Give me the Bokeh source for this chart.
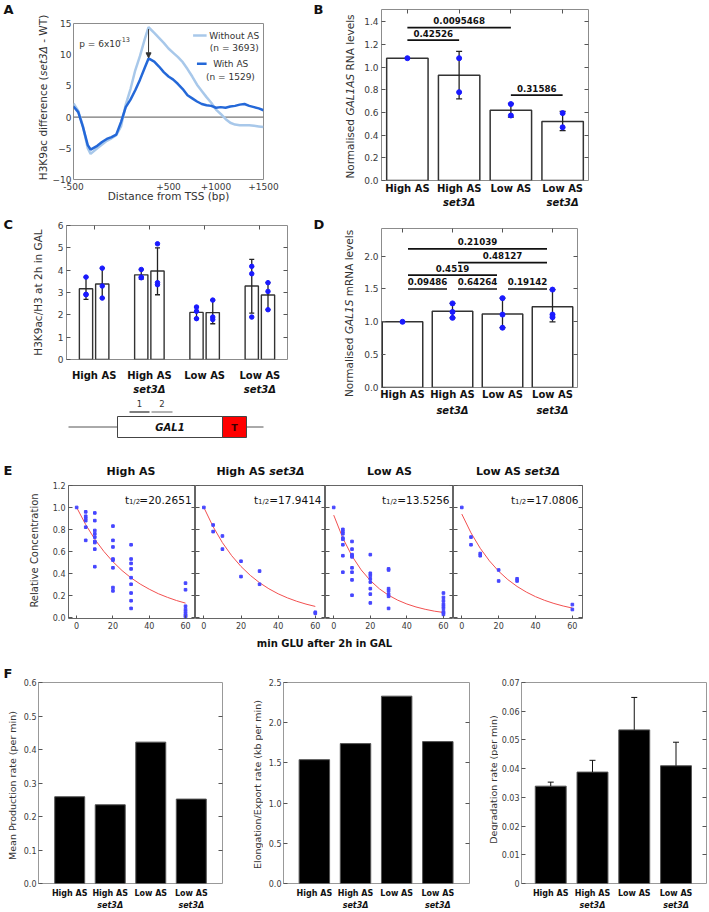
import math
from bokeh.plotting import figure
from bokeh.layouts import column, row
from bokeh.models import (Range1d, Arrow, NormalHead, LinearAxis, FixedTicker,
                          CustomJSTickFormatter, Span)
from bokeh.core.properties import value
from bokeh.embed import file_html
from bokeh.resources import INLINE

FONT = "DejaVu Sans"

# ---------------- DATA ----------------
# Panel A: H3K9ac difference (set3Δ - WT) around TSS
a_pos = [-500, -450, -400, -350, -320, -250, -200, -150, -100, -50, 0, 50, 100, 150, 200, 250, 290,
         350, 400, 450, 500, 550, 600, 650, 700, 750, 800, 850, 900, 950, 1000, 1050, 1100, 1150,
         1200, 1250, 1300, 1350, 1400, 1450, 1500]
a_without = [2.2, 1.0, -1.5, -5.0, -5.9, -5.0, -4.4, -3.8, -3.4, -2.9, -1.5, 2.0, 4.5, 7.5, 9.8, 12.5,
             14.4, 13.5, 12.7, 11.9, 11.0, 10.3, 9.6, 8.8, 7.7, 6.5, 5.2, 4.2, 3.2, 2.3, 1.2, 0.5, -0.3,
             -0.9, -1.2, -1.3, -1.3, -1.3, -1.4, -1.5, -1.6]
a_with = [1.7, 0.8, -1.6, -4.5, -5.2, -4.6, -4.0, -3.5, -3.2, -2.8, -0.8, 1.6, 2.8, 4.3, 6.0, 7.9, 9.4,
          8.9, 8.1, 7.2, 6.5, 6.0, 5.3, 4.5, 3.5, 3.0, 2.5, 2.1, 1.9, 1.8, 1.5, 1.6, 1.5, 1.7, 1.8,
          2.0, 2.1, 1.8, 1.6, 1.4, 1.1]
a_xticks = [-500, 500, 1000, 1500]
a_yticks = [-10, -5, 0, 5, 10, 15]
a_legend = ["Without AS", "(n = 3693)", "With AS", "(n = 1529)"]
a_ptext = ["p = 6x10", "-13"]

# shared categories
cat_line1 = ["High AS", "High AS", "Low AS", "Low AS"]
cat_line2 = ["", "set3Δ", "", "set3Δ"]

# Panel B: Normalised GAL1AS RNA levels
b_mean = [1.08, 0.93, 0.62, 0.52]
b_pts = [[1.08], [1.08, 0.78], [0.675, 0.574], [0.595, 0.47]]
b_err_idx = [1, 2, 3]
b_err_lo = [0.72, 0.56, 0.44]
b_err_hi = [1.14, 0.68, 0.61]
b_sig = [(1, 3, 1.35, "0.0095468"), (1, 2, 1.24, "0.42526"), (3, 4, 0.754, "0.31586")]
b_yticks = [0.0, 0.2, 0.4, 0.6, 0.8, 1.0, 1.2, 1.4]

# Panel C: H3K9ac/H3 at 2h in GAL (two amplicons per strain)
c_bar1 = [3.17, 3.79, 2.11, 3.29]
c_bar2 = [3.38, 3.96, 2.10, 2.89]
c_pts1 = [[3.69, 2.90, 2.92], [4.03, 3.69, 3.66], [2.35, 2.16, 1.83], [4.17, 3.84, 1.90]]
c_pts2 = [[4.09, 3.29, 2.75], [5.18, 3.44, 3.35], [2.66, 1.90, 1.79], [3.44, 3.05, 2.23]]
c_err1_lo = [2.69, 3.60, 1.83, 2.08]
c_err1_hi = [3.69, 4.03, 2.35, 4.48]
c_err2_lo = [2.75, 2.90, 1.60, 2.23]
c_err2_hi = [4.09, 5.00, 2.66, 3.44]
c_yticks = [0, 1, 2, 3, 4, 5, 6]

# Panel D: Normalised GAL1S mRNA levels
d_mean = [1.00, 1.16, 1.12, 1.23]
d_pts = [[1.00], [1.28, 1.15, 1.06], [1.36, 1.11, 0.91], [1.49, 1.11, 1.07]]
d_err_idx = [1, 2, 3]
d_err_lo = [1.06, 0.91, 1.00]
d_err_hi = [1.28, 1.36, 1.49]
d_sig = [(1, 2, 1.50, "0.09486"), (2, 3, 1.50, "0.64264"), (3, 4, 1.50, "0.19142"),
         (1, 3, 1.71, "0.4519"), (2, 4, 1.90, "0.48127"), (1, 4, 2.11, "0.21039")]
d_yticks = [0.0, 0.5, 1.0, 1.5, 2.0]

# Panel E: decay after glucose shut-off
e_titles = [("High AS", ""), ("High AS", "set3Δ"), ("Low AS", ""), ("Low AS", "set3Δ")]
e_half = ["20.2651", "17.9414", "13.5256", "17.0806"]
e1_t = [0] + [5] * 6 + [10] * 9 + [20] * 8 + [30] * 9 + [60] * 8
e1_c = [1.0, 0.96, 0.92, 0.90, 0.88, 0.82, 0.70, 0.95, 0.88, 0.79, 0.76, 0.73, 0.69, 0.68, 0.62, 0.46,
        0.83, 0.70, 0.64, 0.53, 0.52, 0.45, 0.27, 0.24, 0.66, 0.53, 0.49, 0.44, 0.36, 0.30, 0.22, 0.15,
        0.08, 0.31, 0.25, 0.10, 0.07, 0.05, 0.03, 0.015, 0.005]
e2_t = [0, 5, 5, 10, 10, 20, 20, 30, 30, 60, 60]
e2_c = [1.0, 0.84, 0.78, 0.74, 0.62, 0.51, 0.37, 0.42, 0.30, 0.045, 0.035]
e3_t = [0] + [5] * 8 + [10] * 9 + [20] * 8 + [30] * 7 + [60] * 9
e3_c = [1.0, 0.80, 0.78, 0.76, 0.72, 0.71, 0.66, 0.56, 0.41, 0.69, 0.62, 0.57, 0.56, 0.55, 0.45, 0.41,
        0.34, 0.20, 0.57, 0.40, 0.38, 0.35, 0.32, 0.26, 0.21, 0.13, 0.44, 0.43, 0.26, 0.24, 0.21, 0.19,
        0.08, 0.22, 0.18, 0.15, 0.12, 0.10, 0.08, 0.05, 0.04, 0.025]
e4_t = [0, 5, 5, 10, 10, 20, 20, 30, 30, 60, 60]
e4_c = [1.0, 0.73, 0.66, 0.58, 0.56, 0.43, 0.33, 0.35, 0.33, 0.115, 0.07]
e_fit_t = [0, 5, 10, 15, 20, 25, 30, 35, 40, 45, 50, 55, 60]
e1_fit = [1.0, 0.843, 0.710, 0.599, 0.505, 0.425, 0.358, 0.302, 0.255, 0.214, 0.181, 0.152, 0.128]
e2_fit = [1.0, 0.824, 0.679, 0.560, 0.462, 0.381, 0.314, 0.259, 0.213, 0.176, 0.145, 0.119, 0.098]
e3_fit = [0.93, 0.720, 0.557, 0.431, 0.334, 0.258, 0.200, 0.155, 0.120, 0.093, 0.072, 0.055, 0.043]
e4_fit = [0.94, 0.768, 0.628, 0.513, 0.419, 0.342, 0.280, 0.229, 0.187, 0.153, 0.125, 0.102, 0.083]
e_xticks = [0, 20, 40, 60]
e_yticks = [0.0, 0.2, 0.4, 0.6, 0.8, 1.0, 1.2]

# Panel F: modelled rates
f_prod = [0.259, 0.235, 0.422, 0.252]
f_elong = [1.54, 1.74, 2.33, 1.765]
f_deg = [0.0339, 0.0388, 0.0535, 0.0410]
f_deg_hi = [0.0353, 0.0429, 0.0648, 0.0492]
f1_yticks = [0.0, 0.1, 0.2, 0.3, 0.4, 0.5, 0.6]
f2_yticks = [0.0, 0.5, 1.0, 1.5, 2.0, 2.5]
f3_yticks = [0, 0.01, 0.02, 0.03, 0.04, 0.05, 0.06, 0.07]

# GAL1 schematic (diagram units)
gal1_backbone = [68, 263]
gal1_body = (117, 222)
gal1_term = (222, 246)
gal1_box = (416, 437)
gal1_probes = [(129, 149, "1", "#555555"), (151, 172, "2", "#9a9a9a")]

LIGHT = "#a8c8ea"
DARK = "#2468d8"
PTS = "#1a1aff"
TXT = "#333333"
INK = "#111111"

# ---------------- helpers ----------------
REGW = {' ': .318, '(': .390, ')': .390, '-': .361, '.': .318, '/': .337, '=': .838, '+': .838,
        'x': .592, 'A': .684, 'C': .698, 'D': .770, 'G': .775, 'H': .752, 'K': .656, 'L': .557,
        'N': .748, 'R': .695, 'S': .635, 'T': .611, 'W': .989, 'a': .613, 'b': .635, 'c': .550,
        'd': .635, 'e': .615, 'f': .352, 'g': .635, 'h': .634, 'i': .278, 'l': .278, 'm': .974,
        'n': .634, 'o': .612, 'p': .635, 'r': .411, 's': .521, 't': .392, 'v': .592, 'Δ': .684}
BOLDW = {' ': .348, 'A': .774, 'H': .837, 'S': .720, 'L': .637, 'G': .821, 'i': .343, 'g': .716,
         'h': .712, 's': .595, 'e': .678, 't': .478, 'o': .687, 'w': .924, 'Δ': .774, '.': .380}


def tw(s, size, bold=False):
    tab = BOLDW if bold else REGW
    tot = 0.0
    for ch in s:
        if ch.isdigit():
            tot += 0.696 if bold else 0.636
        else:
            tot += tab.get(ch, 0.70 if bold else 0.62)
    return tot * size


class Panel:
    def __init__(self, cx0, cy0, cx1, cy1, fx0, fx1, fy0, fy1, xr, yr, outline="#8c8c8c"):
        self.fx0, self.fx1, self.fy0, self.fy1 = fx0, fx1, fy0, fy1
        self.xr, self.yr = xr, yr
        p = figure(width=cx1 - cx0, height=cy1 - cy0,
                   x_range=Range1d(*xr), y_range=Range1d(*yr),
                   output_backend="svg", toolbar_location=None,
                   x_axis_location=None, y_axis_location=None,
                   min_border_left=fx0 - cx0, min_border_right=cx1 - fx1,
                   min_border_top=fy0 - cy0, min_border_bottom=cy1 - fy1)
        p.grid.visible = False
        p.outline_line_color = outline
        p.outline_line_width = 1
        p.background_fill_color = "white"
        p.border_fill_color = "white"
        self.p = p

    def d(self, X, Y):
        x = self.xr[0] + (X - self.fx0) / (self.fx1 - self.fx0) * (self.xr[1] - self.xr[0])
        y = self.yr[1] - (Y - self.fy0) / (self.fy1 - self.fy0) * (self.yr[1] - self.yr[0])
        return x, y

    def upx(self):
        return (self.yr[1] - self.yr[0]) / (self.fy1 - self.fy0)

    def sx(self, x):
        return self.fx0 + (x - self.xr[0]) / (self.xr[1] - self.xr[0]) * (self.fx1 - self.fx0)

    def text(self, X, Y, s, size, style="normal", color=INK, align="center",
             baseline="middle", angle=0.0):
        x, y = self.d(X, Y)
        self.p.text(x=[x], y=[y], text=[s], text_font=value(FONT),
                    text_font_size=value(f"{size}px"), text_font_style=value(style),
                    text_color=value(color), text_align=value(align),
                    text_baseline=value(baseline), angle=value(angle))

    def mixed(self, X, Y, parts, size, color=INK, vertical=False, baseline="middle"):
        widths = [tw(t, size, "bold" in st) for t, st in parts]
        pos = -sum(widths) / 2
        for (t, st), w in zip(parts, widths):
            lead = len(t) - len(t.lstrip(" "))
            core = t.strip(" ")
            off = pos + tw(" " * lead, size, "bold" in st)
            if vertical:
                self.text(X, Y - off, core, size, st, color, align="left", baseline=baseline,
                          angle=math.pi / 2)
            else:
                self.text(X + off, Y, core, size, st, color, align="left", baseline=baseline)
            pos += w


def strip(cx0, cy0, cx1, cy1):
    return Panel(cx0, cy0, cx1, cy1, cx0, cx1, cy0, cy1, (cx0, cx1), (cy1, cy0), outline=None)


def fmt_fixed(n):
    return CustomJSTickFormatter(code=f"return tick.toFixed({n});")


def add_axis(P, side, ticks, size=9, labels=True, standoff=3, tick_in=4, formatter=None,
             axis_label=None, label_size=10.5, label_standoff=0):
    ax = LinearAxis(ticker=FixedTicker(ticks=ticks, minor_ticks=[]))
    ax.axis_line_color = None
    ax.major_tick_in = tick_in
    ax.major_tick_out = 0
    ax.major_tick_line_color = "#555555" if tick_in else None
    ax.minor_tick_line_color = None
    ax.major_label_text_font = FONT
    ax.major_label_text_color = "#3a3a3a"
    if labels:
        ax.major_label_standoff = standoff
        ax.major_label_text_font_size = f"{size}px"
        if formatter is not None:
            ax.formatter = formatter
    else:
        ax.major_label_standoff = 0
        ax.major_label_text_font_size = "0px"
        ax.formatter = CustomJSTickFormatter(code="return '';")
    if axis_label:
        ax.axis_label = axis_label
        ax.axis_label_text_font = FONT
        ax.axis_label_text_font_style = "normal"
        ax.axis_label_text_font_size = f"{label_size}px"
        ax.axis_label_text_color = TXT
        ax.axis_label_standoff = label_standoff
    P.p.add_layout(ax, side)


def cat_axes(P, xs, size, s1, s2):
    for labels, style, st in [(cat_line1, "bold", s1), (cat_line2, "bold italic", s2)]:
        ax = LinearAxis(ticker=FixedTicker(ticks=xs, minor_ticks=[]))
        ax.major_label_overrides = {x: lab for x, lab in zip(xs, labels)}
        ax.axis_line_color = None
        ax.major_tick_line_color = None
        ax.major_tick_in = 0
        ax.major_tick_out = 0
        ax.minor_tick_line_color = None
        ax.major_label_standoff = st
        ax.major_label_text_font = FONT
        ax.major_label_text_font_size = f"{size}px"
        ax.major_label_text_font_style = style
        ax.major_label_text_color = INK
        P.p.add_layout(ax, "below")


def error_bars(P, xs, lo, hi, cap=6, lw=1.3, color="#222222", lower_cap=True):
    P.p.segment(x0=xs, y0=lo, x1=xs, y1=hi, line_color=color, line_width=lw)
    P.p.scatter(x=xs, y=hi, marker="dash", size=cap, line_color=color, line_width=lw)
    if lower_cap:
        P.p.scatter(x=xs, y=lo, marker="dash", size=cap, line_color=color, line_width=lw)


def points(P, xs, pts, size=5):
    px, py = [], []
    for x, vals in zip(xs, pts):
        px += [x] * len(vals)
        py += vals
    P.p.scatter(x=px, y=py, size=size, fill_color=PTS, line_color=PTS)


def sig_bars(P, sig, inset, size=8.7):
    x0 = [s[0] + inset for s in sig]
    x1 = [s[1] - inset for s in sig]
    ys = [s[2] for s in sig]
    P.p.segment(x0=x0, y0=ys, x1=x1, y1=ys, line_color=INK, line_width=1.6)
    for (i, j, y, lab) in sig:
        X = P.sx((i + j) / 2)
        Y = P.fy0 + (P.yr[1] - y) / P.upx() - 7
        P.text(X, Y, lab, size, "bold", INK)


def inrow(p):   # isolate a figure inside a row (no frame alignment with siblings)
    return column(p)


def incol(p):   # isolate a figure inside a column
    return row(p)


# ---------------- Row 1: A and B ----------------
SA = strip(0, 0, 49, 218)
SA.text(3, 9, "A", 13, "bold", INK, align="left")
SA.mixed(42.5, 97, [("H3K9ac difference (", "normal"), ("set3Δ", "italic"), (" - WT)", "normal")],
         10.5, TXT, vertical=True)

A = Panel(49, 0, 310, 218, 66, 263, 23, 179, (-500, 1500), (-10, 15))
add_axis(A, "left", a_yticks, size=9, tick_in=0, standoff=2)
add_axis(A, "below", a_xticks, size=9, tick_in=0, standoff=3,
         formatter=CustomJSTickFormatter(code="return tick > 0 ? '+' + tick : '' + tick;"),
         axis_label="Distance from TSS (bp)", label_size=10.5, label_standoff=-3)
A.p.add_layout(Span(location=0, dimension="width", line_color="#555555", line_width=1, level="underlay"))
A.p.line(a_pos, a_without, line_color=LIGHT, line_width=2.5)
A.p.line(a_pos, a_with, line_color=DARK, line_width=2.5)
i_w = a_without.index(max(a_without))
i_a = a_with.index(max(a_with))
A.p.add_layout(Arrow(end=NormalHead(size=5, fill_color=TXT, line_color=TXT),
                     x_start=a_pos[i_w], y_start=a_without[i_w] - 0.3,
                     x_end=a_pos[i_a], y_end=a_with[i_a] + 0.1,
                     line_color=TXT, line_width=1))
for (Xa, Xb, Y, col) in [(190, 204, 35, LIGHT), (194, 204, 63.3, DARK)]:
    xa, ya = A.d(Xa, Y)
    xb, _ = A.d(Xb, Y)
    A.p.line([xa, xb], [ya, ya], line_color=col, line_width=2.5)
A.text(232.7, 35, a_legend[0], 9, color=TXT)
A.text(232.7, 47.7, a_legend[1], 9, color=TXT)
A.text(229, 63.3, a_legend[2], 9, color=TXT)
A.text(228.7, 76, a_legend[3], 9, color=TXT)
A.text(72, 43.3, a_ptext[0], 9, color=TXT, align="left")
A.text(72 + tw(a_ptext[0], 9), 39, a_ptext[1], 6.5, color=TXT, align="left")

SB = strip(310, 0, 356, 218)
SB.text(313, 9, "B", 13, "bold", INK, align="left")
SB.mixed(349.3, 96, [("Normalised ", "normal"), ("GAL1AS", "italic"), (" RNA levels", "normal")],
         10.5, TXT, vertical=True)

B = Panel(356, 0, 709, 218, 381, 588, 9, 180, (0.5, 4.5), (0, 1.51))
bx = [1, 2, 3, 4]
add_axis(B, "left", b_yticks, size=9, tick_in=4, standoff=3, formatter=fmt_fixed(1))
add_axis(B, "right", b_yticks[1:], labels=False)
add_axis(B, "above", bx, labels=False)
cat_axes(B, bx, 10, 2, 0)
B.p.vbar(x=bx, top=b_mean, width=0.8, fill_color="white", line_color=TXT, line_width=1.5)
error_bars(B, [bx[i] for i in b_err_idx], b_err_lo, b_err_hi)
points(B, bx, b_pts)
sig_bars(B, b_sig, 0.0)

# ---------------- Row 2: C and D ----------------
SC = strip(0, 218, 49, 460)
SC.text(3, 224, "C", 13, "bold", INK, align="left")
SC.text(37.3, 292, "H3K9ac/H3 at 2h in GAL", 10.5, color=TXT, angle=math.pi / 2)

C = Panel(49, 218, 310, 397, 66, 287, 225, 359, (0, 4), (0, 6))
cx = [0.5, 1.5, 2.5, 3.5]
off = 0.147
cx1 = [x - off for x in cx]
cx2 = [x + off for x in cx]
add_axis(C, "left", c_yticks, size=9, tick_in=4, standoff=3)
add_axis(C, "right", c_yticks[1:-1], labels=False)
add_axis(C, "above", cx, labels=False)
cat_axes(C, cx, 10, 10, 0)
C.p.vbar(x=cx1, top=c_bar1, width=0.24, fill_color="white", line_color=TXT, line_width=1.4)
C.p.vbar(x=cx2, top=c_bar2, width=0.24, fill_color="white", line_color=TXT, line_width=1.4)
error_bars(C, cx1, c_err1_lo, c_err1_hi, cap=5)
error_bars(C, cx2, c_err2_lo, c_err2_hi, cap=5)
points(C, cx1, c_pts1, size=4.5)
points(C, cx2, c_pts2, size=4.5)

G = strip(49, 397, 310, 460)
ymid = (gal1_box[0] + gal1_box[1]) / 2
G.p.line(gal1_backbone, [ymid, ymid], line_color="#555555", line_width=1)
G.p.quad(left=[gal1_body[0]], right=[gal1_body[1]], top=[gal1_box[0]], bottom=[gal1_box[1]],
         fill_color="white", line_color="#444444", line_width=1)
G.p.quad(left=[gal1_term[0]], right=[gal1_term[1]], top=[gal1_box[0]], bottom=[gal1_box[1]],
         fill_color="#ff0000", line_color="#444444", line_width=1)
G.text((gal1_body[0] + gal1_body[1]) / 2, ymid, "GAL1", 10, "bold italic", INK)
G.text((gal1_term[0] + gal1_term[1]) / 2, ymid, "T", 9.5, "bold", "#3a0000")
for (a0, a1, lab, col) in gal1_probes:
    G.p.line([a0, a1], [gal1_box[0] - 4.5, gal1_box[0] - 4.5], line_color=col, line_width=1.6)
    G.text((a0 + a1) / 2, gal1_box[0] - 13.5, lab, 8.5, color=TXT)

SD = strip(310, 218, 356, 460)
SD.text(313, 224, "D", 13, "bold", INK, align="left")
SD.mixed(348.3, 313, [("Normalised ", "normal"), ("GAL1S", "italic"), (" mRNA levels", "normal")],
         10.5, TXT, vertical=True)

D = Panel(356, 218, 709, 460, 381, 577, 228, 387, (0.58, 4.5), (0, 2.42))
dx = [1, 2, 3, 4]
add_axis(D, "left", d_yticks, size=9, tick_in=4, standoff=3, formatter=fmt_fixed(1))
add_axis(D, "right", d_yticks[1:], labels=False)
add_axis(D, "above", dx, labels=False)
cat_axes(D, dx, 10, 1, 2)
D.p.vbar(x=dx, top=d_mean, width=0.81, fill_color="white", line_color=TXT, line_width=1.5)
error_bars(D, [dx[i] for i in d_err_idx], d_err_lo, d_err_hi)
points(D, dx, d_pts)
sig_bars(D, d_sig, 0.11)

# ---------------- Row 3: E ----------------
ET = strip(0, 460, 709, 481)
ET.text(3, 470, "E", 13, "bold", INK, align="left")
e_frames = [(49, 195, 66, 195), (195, 325, 195, 325), (325, 453, 325, 453), (453, 709, 453, 582)]
e_data = [(e1_t, e1_c, e1_fit), (e2_t, e2_c, e2_fit), (e3_t, e3_c, e3_fit), (e4_t, e4_c, e4_fit)]
SE = strip(0, 481, 49, 633)
SE.text(34.3, 550, "Relative Concentration", 10, color=TXT, angle=math.pi / 2)
E = []
for k, ((c0, c1, f0, f1), (tt, cc, fit)) in enumerate(zip(e_frames, e_data)):
    P = Panel(c0, 481, c1, 633, f0, f1, 485, 618, (-4.5, 65.5), (-0.012, 1.2), outline="#666666")
    add_axis(P, "left", e_yticks, size=8, labels=(k == 0), tick_in=4, standoff=3,
             formatter=fmt_fixed(1))
    add_axis(P, "right", e_yticks, labels=False)
    add_axis(P, "below", e_xticks, size=8, tick_in=3, standoff=3)
    P.p.line(e_fit_t, fit, line_color="#f25050", line_width=1)
    P.p.scatter(tt, cc, marker="square", size=2.6, fill_color="#4646ff", line_color="#4646ff")
    t1, t2 = e_titles[k]
    Xc = (f0 + f1) / 2
    if t2:
        ET.mixed(Xc, 471, [(t1 + " ", "bold"), (t2, "bold italic")], 11, INK)
    else:
        ET.text(Xc, 471, t1, 11, "bold", INK)
    Xr = f1 - 4
    main = "=" + e_half[k]
    wm = tw(main, 10.5)
    ws = tw("1/2", 7)
    P.text(Xr, 499, main, 10.5, color=INK, align="right", baseline="alphabetic")
    P.text(Xr - wm, 501.5, "1/2", 7, color=INK, align="right", baseline="alphabetic")
    P.text(Xr - wm - ws, 499, "t", 10.5, color=INK, align="right", baseline="alphabetic")
    E.append(P)

EX = strip(0, 633, 709, 652)
EX.text(324, 642.5, "min GLU after 2h in GAL", 10, "bold", INK)

# ---------------- Row 4: F ----------------
fx = [1, 2, 3, 4]
SF1 = strip(0, 652, 20, 912)
SF1.text(3, 673, "F", 13, "bold", INK, align="left")
SF1.text(11.5, 785, "Mean Production rate (per min)", 9.5, color=TXT, angle=math.pi / 2)
F1 = Panel(20, 652, 250, 912, 36, 222, 682, 888, (0.23, 4.77), (0, 0.6), outline="#999999")
SF2 = strip(250, 652, 263, 912)
SF2.text(256.7, 784, "Elongation/Export rate (kb per min)", 9.5, color=TXT, angle=math.pi / 2)
F2 = Panel(263, 652, 487, 912, 283, 469, 682, 888, (0.25, 4.77), (0, 2.5), outline="#999999")
SF3 = strip(487, 652, 498, 912)
SF3.text(492.5, 779, "Degradation rate (per min)", 9.5, color=TXT, angle=math.pi / 2)
F3 = Panel(498, 652, 709, 912, 521, 706, 682, 888, (0.3, 4.73), (0, 0.07), outline="#999999")
for P, vals, ticks, fmt in [(F1, f_prod, f1_yticks, fmt_fixed(1)), (F2, f_elong, f2_yticks, fmt_fixed(1)),
                            (F3, f_deg, f3_yticks,
                             CustomJSTickFormatter(code="return tick == 0 ? '0' : tick.toFixed(2);"))]:
    add_axis(P, "left", ticks, size=8, tick_in=4, standoff=2, formatter=fmt)
    add_axis(P, "right", ticks[1:-1], labels=False)
    cat_axes(P, fx, 8, 5, 0)
    P.p.vbar(x=fx, top=vals, width=0.74, fill_color="black", line_color="#555555", line_width=1)
error_bars(F3, fx, f_deg, f_deg_hi, cap=6, lw=1, color=INK, lower_cap=False)

# ---------------- layout ----------------
root = column(
    row(inrow(SA.p), inrow(A.p), inrow(SB.p), inrow(B.p)),
    row(inrow(SC.p), column(incol(C.p), incol(G.p)), inrow(SD.p), inrow(D.p)),
    incol(ET.p),
    row(inrow(SE.p), *[inrow(P.p) for P in E]),
    incol(EX.p),
    row(inrow(SF1.p), inrow(F1.p), inrow(SF2.p), inrow(F2.p), inrow(SF3.p), inrow(F3.p)),
)

open("out.html", "w").write(file_html(root, INLINE, title="Figure"))
